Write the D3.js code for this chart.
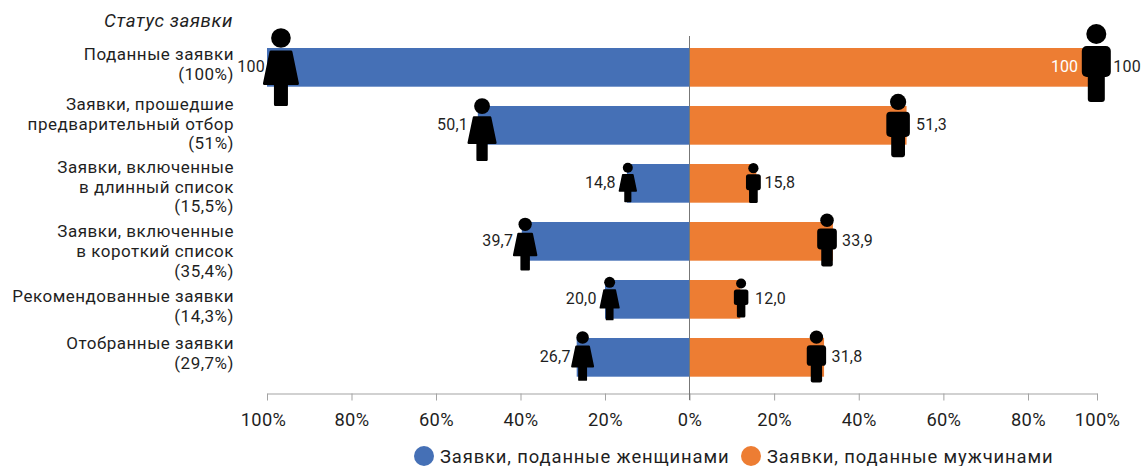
<!DOCTYPE html>
<html><head><meta charset="utf-8">
<script src="https://cdn.jsdelivr.net/npm/d3@7/dist/d3.min.js"></script>
<style>
html,body{margin:0;padding:0;background:#fff}
svg{display:block}
text{font-family:Roboto,sans-serif;fill:#1f1f1f}
</style></head><body><svg id="c" width="1142" height="466"></svg>
<script>
// Data
const categories = [
  ["Поданные заявки","(100%)"],
  ["Заявки, прошедшие","предварительный отбор","(51%)"],
  ["Заявки, включенные","в длинный список","(15,5%)"],
  ["Заявки, включенные","в короткий список","(35,4%)"],
  ["Рекомендованные заявки","(14,3%)"],
  ["Отобранные заявки","(29,7%)"]
];
const women = [100, 50.1, 14.8, 39.7, 20.0, 26.7];
const men   = [100, 51.3, 15.8, 33.9, 12.0, 31.8];
const womenLabels = ["100","50,1","14,8","39,7","20,0","26,7"];
const menLabels   = ["100","51,3","15,8","33,9","12,0","31,8"];
const womenIconAt = [96.7, 49.1, 14.6, 38.9, 18.9, 25.3];
const menIconAt   = [99.8, 49.3, 15.1, 32.5, 12.2, 30.0];
const ticksLeft = [0,20,40,60,80,100];
const ticksRight = [20,40,60,80,100];
const seriesNames = ["Заявки, поданные женщинами","Заявки, поданные мужчинами"];
const title = "Статус заявки";

const BLUE="#4570b6", ORANGE="#ed7d33", GREY="#a3a3a3";
const svg=d3.select("#c");

const xL=d3.scaleLinear().domain([0,100]).range([689.5,267]);
const xR=d3.scaleLinear().domain([0,80,100]).range([689.5,1028,1097]);
const y=d3.scaleBand().domain(d3.range(categories.length)).range([38.35,386.35]).paddingInner(0.333).paddingOuter(0.1665);
const iconH=d3.scaleLinear().domain([12,16,27,34,40,50,100]).range([39,40,50,53,53,63,78]);

// bars
svg.append("g").selectAll("rect").data(women).join("rect")
  .attr("x",d=>xL(d)).attr("width",d=>xL(0)-xL(d))
  .attr("y",(d,i)=>y(i)).attr("height",y.bandwidth()).attr("fill",BLUE);
svg.append("g").selectAll("rect").data(men).join("rect")
  .attr("x",xR(0)).attr("width",d=>xR(d)-xR(0))
  .attr("y",(d,i)=>y(i)).attr("height",y.bandwidth()).attr("fill",ORANGE);

// axes
function styleAxis(g){
  g.select(".domain").attr("stroke",GREY).attr("stroke-width",1);
  g.selectAll(".tick line").attr("stroke",GREY);
  g.selectAll(".tick text").attr("font-size",18.3).attr("letter-spacing",0.35).attr("fill","#1f1f1f").attr("dy",0).attr("y",32);
}
const fmt=d=>d+"%";
svg.append("g").attr("transform","translate(0,393.5)")
  .call(d3.axisBottom(xL).tickValues(ticksLeft).tickFormat(fmt).tickSize(7).tickSizeOuter(0)).call(styleAxis)
  .selectAll(".tick text").filter(d=>d===100).attr("x",-4);
svg.append("g").attr("transform","translate(0,393.5)")
  .call(d3.axisBottom(xR).tickValues(ticksRight).tickFormat(fmt).tickSize(7).tickSizeOuter(0)).call(styleAxis);
svg.append("line").attr("x1",xL(0)).attr("x2",xL(0)).attr("y1",36).attr("y2",400).attr("stroke","#777").attr("stroke-width",1);

// icons (drawn at 78 units tall, centred on x=0, top at y=0)
function woman(g){
  g.append("circle").attr("cy",10).attr("r",9.8).attr("fill","#000");
  g.append("path").attr("fill","#000").attr("stroke","#000").attr("stroke-width",3).attr("stroke-linejoin","round")
    .attr("d","M-10,24 L10,24 L16.5,55.5 L5.5,55.5 L5.5,76.5 L-5.5,76.5 L-5.5,55.5 L-16.5,55.5 Z");
}
function man(g){
  g.append("circle").attr("cy",10).attr("r",10).attr("fill","#000");
  g.append("rect").attr("x",-14.5).attr("y",22).attr("width",29).attr("height",31).attr("rx",5).attr("fill","#000");
  g.append("rect").attr("x",-8.5).attr("y",30).attr("width",17).attr("height",48).attr("rx",3).attr("fill","#000");
}
const wCy=[67,129.5,182.5,244,298.5,356], mCy=[63,125.5,183,240,298,356.5];
women.forEach((d,i)=>{const h=iconH(d),s=h/78;
  svg.append("g").attr("transform",`translate(${xL(womenIconAt[i])},${wCy[i]-h/2}) scale(${s})`).call(woman);});
men.forEach((d,i)=>{const h=iconH(d),s=h/78;
  svg.append("g").attr("transform",`translate(${xR(menIconAt[i])},${mCy[i]-h/2}) scale(${s})`).call(man);});

// value labels
const wGap=[16,14,12,12,13,12], mGap=[17,18,11,15,14,15];
svg.append("g").selectAll("text").data(womenLabels).join("text")
  .attr("x",(d,i)=>xL(womenIconAt[i])-wGap[i]).attr("y",(d,i)=>y(i)+y.bandwidth()/2+5)
  .attr("text-anchor","end").attr("font-size",16).attr("letter-spacing",0.2).text(d=>d);
svg.append("g").selectAll("text").data(menLabels).join("text")
  .attr("x",(d,i)=>xR(menIconAt[i])+mGap[i]).attr("y",(d,i)=>y(i)+y.bandwidth()/2+5)
  .attr("font-size",16).attr("letter-spacing",0.2).text(d=>d);
svg.append("text").attr("x",1078).attr("y",y(0)+y.bandwidth()/2+5).attr("text-anchor","end")
  .attr("font-size",16).style("fill","#fff").text(menLabels[0]);

// category labels
const catY=[[60,79.5],[110,129.5,148.5],[173,193,212],[237,257,277],[302,322],[349,369]];
categories.forEach((lines,i)=>{
  lines.forEach((t,j)=>svg.append("text").attr("x",234).attr("y",catY[i][j]).attr("text-anchor","end")
    .attr("font-size",17).attr("letter-spacing",0.5).text(t));
});
svg.append("text").attr("x",233).attr("y",27).attr("text-anchor","end").attr("font-size",18.7).attr("font-style","italic").attr("letter-spacing",0.6).text(title);

// legend
const lg=[{cx:424,tx:440,c:BLUE},{cx:751,tx:767,c:ORANGE}];
lg.forEach((l,i)=>{
  svg.append("circle").attr("cx",l.cx).attr("cy",456).attr("r",10).attr("fill",l.c);
  svg.append("text").attr("x",l.tx).attr("y",462.5).attr("font-size",18.4).attr("letter-spacing",0.88).text(seriesNames[i]);
});
</script></body></html>
